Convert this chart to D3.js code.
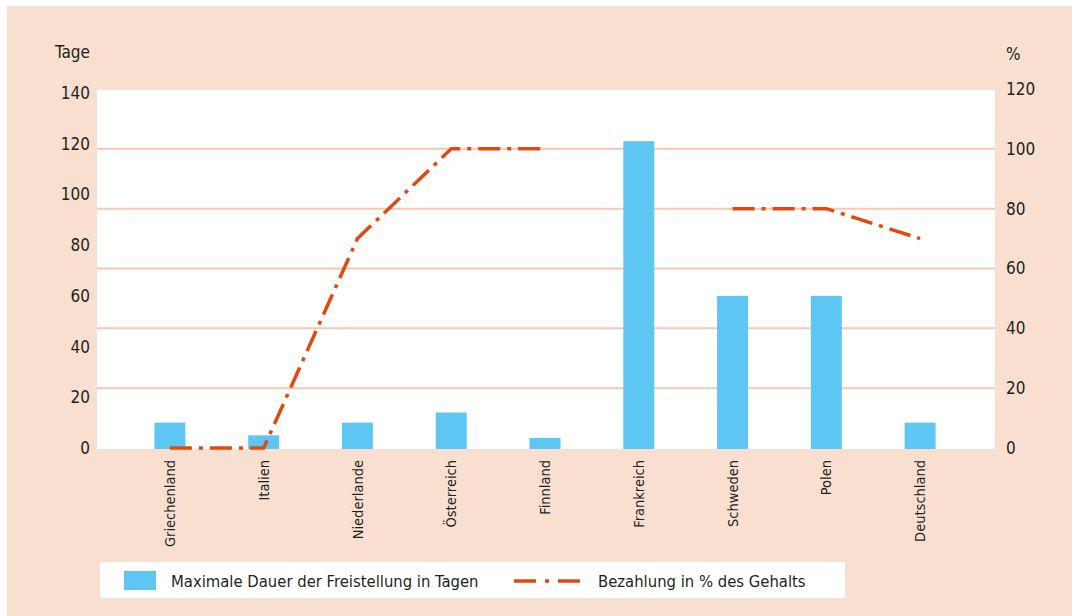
<!DOCTYPE html>
<html lang="de">
<head>
<meta charset="utf-8">
<style>
    body { margin: 0; background: #fff; }
    svg text { font-family: "Liberation Sans Narrow", "DejaVu Sans Condensed", "Roboto", sans-serif; fill: #231f20; }
</style>
</head>
<body>
<svg width="1072" height="616"></svg>
<script src="https://d3js.org/d3.v7.min.js"></script>
<script>
// data
var countries = ["Griechenland", "Italien", "Niederlande", "Österreich", "Finnland", "Frankreich", "Schweden", "Polen", "Deutschland"];
var tage = [10, 5, 10, 14, 4, 121, 60, 60, 10];
var bezahlung = [0, 0, 70, 100, 100, null, 80, 80, 70];
var leftTicks = [0, 20, 40, 60, 80, 100, 120, 140];
var rightTicks = [0, 20, 40, 60, 80, 100, 120];
var legendLabels = ["Maximale Dauer der Freistellung in Tagen", "Bezahlung in % des Gehalts"];

var svg = d3.select("svg");

var peach = "#f9dfd0",
    gridCol = "#f6c8ae",
    barCol = "#5ec6f2",
    lineCol = "#e5480e";

// background panel
svg.append("rect").attr("x", 7).attr("y", 6).attr("width", 1065).attr("height", 610).attr("fill", peach);

// plot area
var plot = { left: 97, right: 995, top: 90, bottom: 449 };
svg.append("rect")
    .attr("x", plot.left).attr("y", plot.top)
    .attr("width", plot.right - plot.left).attr("height", plot.bottom - plot.top)
    .attr("fill", "#fff");

var x = d3.scaleBand().domain(countries).range([123, 967]).paddingInner(0.67).paddingOuter(0.335);
var yL = d3.scaleLinear().domain([0, 140]).range([448, 93]);
var yR = d3.scaleLinear().domain([0, 120]).range([448, 89]);

// grid lines (right axis)
svg.selectAll(".grid")
    .data(rightTicks.filter(function (d) { return d > 0 && d < 120; }))
    .enter().append("line")
    .attr("class", "grid")
    .attr("x1", plot.left).attr("x2", plot.right)
    .attr("y1", function (d) { return yR(d); })
    .attr("y2", function (d) { return yR(d); })
    .attr("stroke", gridCol)
    .attr("stroke-width", 2);

// bars
svg.selectAll(".bar")
    .data(countries)
    .enter().append("rect")
    .attr("class", "bar")
    .attr("x", function (d) { return x(d); })
    .attr("width", x.bandwidth())
    .attr("y", function (d, i) { return yL(tage[i]); })
    .attr("height", function (d, i) { return plot.bottom - yL(tage[i]); })
    .attr("fill", barCol);

// payment line, gap where no value
var line = d3.line()
    .defined(function (d) { return d.v != null; })
    .x(function (d) { return x(d.c) + x.bandwidth() / 2; })
    .y(function (d) { return yR(d.v); });

svg.append("path")
    .datum(countries.map(function (c, i) { return { c: c, v: bezahlung[i] }; }))
    .attr("d", line)
    .attr("fill", "none")
    .attr("stroke", lineCol)
    .attr("stroke-width", 3.5)
    .attr("stroke-dasharray", "22,7,4,7");

// left axis
var axL = svg.append("g").attr("transform", "translate(90,0)")
    .call(d3.axisLeft(yL).tickValues(leftTicks).tickSize(0).tickPadding(0));
axL.select(".domain").remove();
axL.selectAll("text").attr("font-size", 17).style("font-family", null);

// right axis
var axR = svg.append("g").attr("transform", "translate(1006,0)")
    .call(d3.axisRight(yR).tickValues(rightTicks).tickSize(0).tickPadding(0));
axR.select(".domain").remove();
axR.selectAll("text").attr("font-size", 17).style("font-family", null);

// axis titles
svg.append("text").attr("x", 90).attr("y", 58).attr("text-anchor", "end").attr("font-size", 17).text("Tage");
svg.append("text").attr("x", 1006).attr("y", 60).attr("font-size", 17).text("%");

// x labels
svg.selectAll(".xlab")
    .data(countries)
    .enter().append("text")
    .attr("class", "xlab")
    .attr("transform", function (d) {
        return "translate(" + (x(d) + x.bandwidth() / 2) + ",460) rotate(-90)";
    })
    .attr("text-anchor", "end")
    .attr("dy", "0.35em")
    .attr("font-size", 14.5)
    .text(function (d) { return d; });

// legend
svg.append("rect").attr("x", 100).attr("y", 562).attr("width", 745).attr("height", 36).attr("fill", "#fff");
svg.append("rect").attr("x", 124).attr("y", 571).attr("width", 32).attr("height", 19).attr("fill", barCol);
svg.append("text").attr("x", 171).attr("y", 581).attr("dy", "0.35em").attr("font-size", 16.5).text(legendLabels[0]);
svg.append("line").attr("x1", 514).attr("x2", 580).attr("y1", 581).attr("y2", 581)
    .attr("stroke", lineCol).attr("stroke-width", 3.5).attr("stroke-dasharray", "22,9,4,9");
svg.append("text").attr("x", 598).attr("y", 581).attr("dy", "0.35em").attr("font-size", 16.5).text(legendLabels[1]);
</script>
</body>
</html>
